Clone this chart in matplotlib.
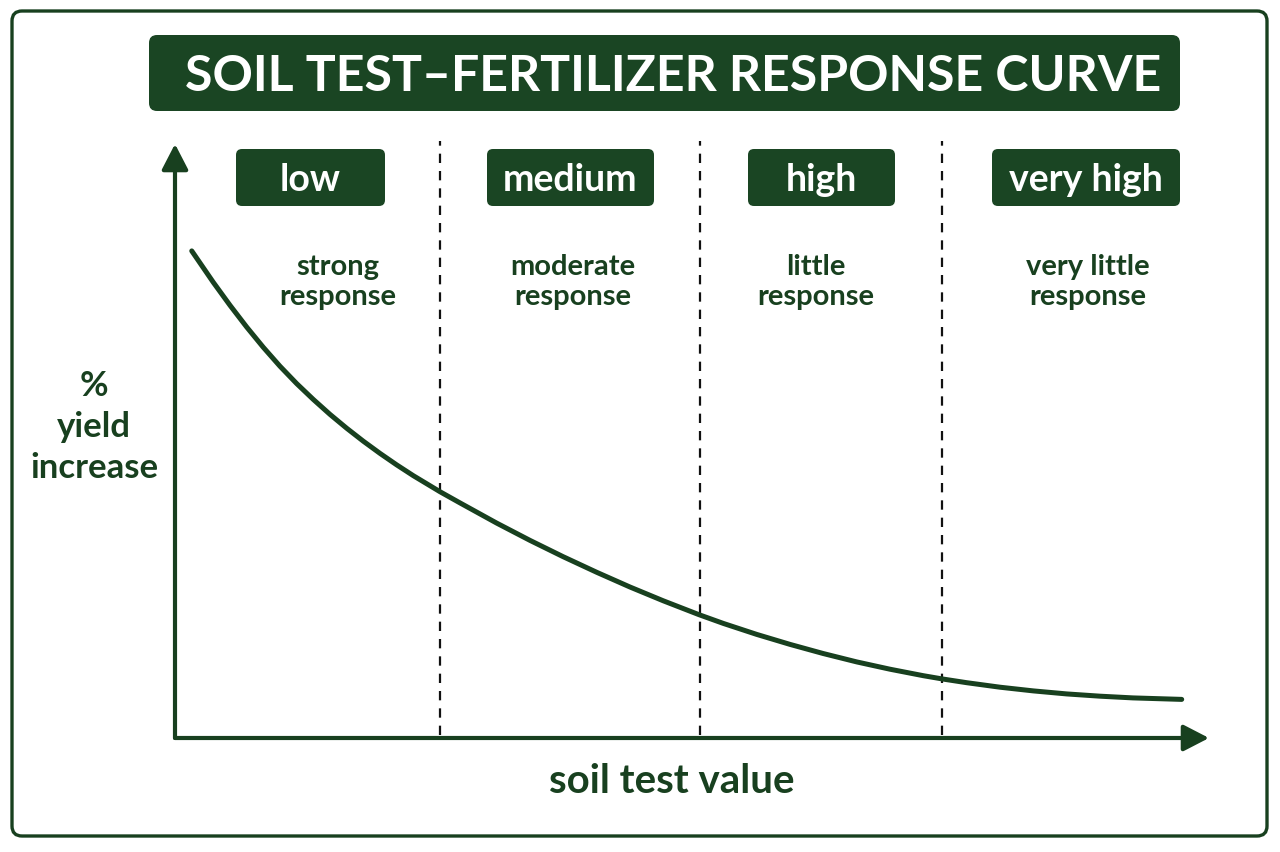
import matplotlib
matplotlib.use("Agg")
import matplotlib.pyplot as plt
from matplotlib.patches import FancyBboxPatch
from matplotlib.patches import ArrowStyle

# ---------------- data ----------------
title = "SOIL TEST\u2013FERTILIZER RESPONSE CURVE"
categories = ["low", "medium", "high", "very high"]
responses = ["strong\nresponse", "moderate\nresponse", "little\nresponse", "very little\nresponse"]
boundaries = [25.6, 50.8, 74.2]          # soil test value where categories change
soil_test = [1.62, 3.70, 5.32, 6.93, 8.54, 10.15, 11.77, 13.38, 14.99, 16.61, 18.21,
             19.83, 21.44, 23.05, 25.63, 27.56, 31.11, 34.33, 37.52, 40.78, 44.00,
             47.22, 50.68, 53.03, 56.26, 59.48, 62.67, 65.93, 69.15, 72.37, 74.18,
             76.57, 79.79, 83.01, 86.24, 89.46, 92.65, 97.36]
yield_increase = [82.00, 76.72, 72.84, 69.19, 65.77, 62.59, 59.66, 56.99, 54.48, 52.14,
                  49.97, 47.91, 45.98, 44.16, 41.46, 39.58, 36.18, 33.27, 30.54, 27.90,
                  25.42, 23.10, 20.76, 19.29, 17.44, 15.76, 14.23, 12.81, 11.58, 10.49,
                  9.95, 9.31, 8.55, 7.93, 7.42, 7.04, 6.75, 6.50]
x_label = "soil test value"
y_label = "%\nyield\nincrease"

# ---------------- style ----------------
DARK = "#18401f"
BOX = "#1a4523"
FONT = "Lato"
W, H = 1280, 853

fig = plt.figure(figsize=(12.8, 8.53), dpi=100)
fig.patch.set_facecolor("white")

# layout layer in pixel coordinates
bg = fig.add_axes([0, 0, 1, 1])
bg.set_xlim(0, W)
bg.set_ylim(H, 0)
bg.axis("off")

# outer rounded border
bg.add_patch(FancyBboxPatch((12, 12), 1255, 825, boxstyle="round,pad=0,rounding_size=10",
                            fc="white", ec=DARK, lw=2.4, zorder=0))
# title box
bg.add_patch(FancyBboxPatch((149, 36), 1031, 76, boxstyle="round,pad=0,rounding_size=8",
                            fc=BOX, ec="none", zorder=1))
bg.text(673, 76, title, color="white", fontsize=36, family=FONT, weight="bold",
        ha="center", va="center", zorder=2)

# plot axes (data coordinates)
x0, x1, ytop, ybot = 175, 1209, 145, 739
ax = fig.add_axes([x0 / W, (H - ybot) / H, (x1 - x0) / W, (ybot - ytop) / H])
ax.set_xlim(0, 100)
ax.set_ylim(0, 100)
ax.axis("off")
ax.patch.set_alpha(0)

# region boundaries
ax.vlines(boundaries, 0.5, 100.5, colors="#111111", lw=1.6, linestyles=(0, (4.2, 3.6)),
          clip_on=False, zorder=2)

# axes arrows
head = ArrowStyle("-|>", head_length=1.2, head_width=0.62)
for xy, xyt in [((1, 0), (0, 0)), ((0, 1), (0, 0))]:
    ax.annotate("", xy=xy, xytext=xyt, xycoords="axes fraction", textcoords="axes fraction",
                arrowprops=dict(arrowstyle=head, color=DARK, lw=3, shrinkA=0, shrinkB=0,
                                mutation_scale=13), zorder=3)

# response curve
ax.plot(soil_test, yield_increase, color=DARK, lw=3.6, solid_capstyle="round",
        solid_joinstyle="round", zorder=4, clip_on=False)

# category boxes (pixel layout)
box_cx = [310.5, 570.5, 821.5, 1086]
box_w = [149, 167, 147, 188]
for cat, cx, bw in zip(categories, box_cx, box_w):
    bg.add_patch(FancyBboxPatch((cx - bw / 2, 150), bw, 57, boxstyle="round,pad=0,rounding_size=6",
                                fc=BOX, ec="none", zorder=1))
    bg.text(cx, 180, cat, color="white", fontsize=27, family=FONT, weight="bold",
            ha="center", va="center", zorder=2)

resp_cx = [338, 573, 816, 1088]
for txt, cx in zip(responses, resp_cx):
    bg.text(cx, 282, txt, color=DARK, fontsize=21, family=FONT, weight="bold",
            ha="center", va="center", linespacing=1.15, zorder=2)

# axis labels
bg.text(94, 427, y_label, color=DARK, fontsize=25, family=FONT, weight="bold",
        ha="center", va="center", linespacing=1.36)
bg.text(672, 782, x_label, color=DARK, fontsize=29, family=FONT, weight="bold",
        ha="center", va="center")

fig.savefig("out.png", dpi=100, facecolor="white")
